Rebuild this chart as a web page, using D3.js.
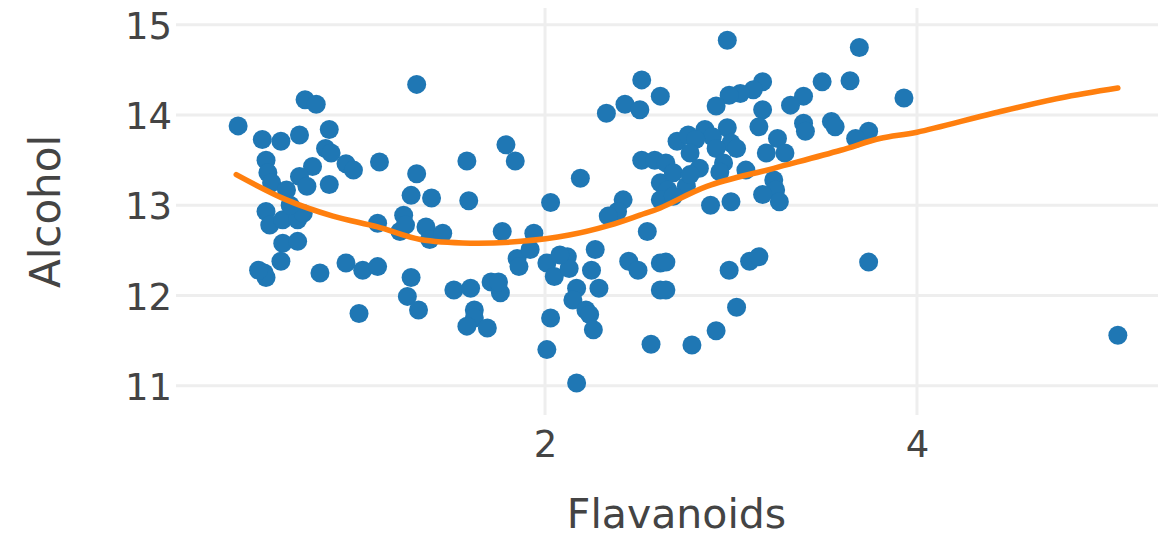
<!DOCTYPE html>
<html>
<head>
<meta charset="utf-8">
<script src="https://cdn.jsdelivr.net/npm/d3@7"></script>
<style>
  html, body { margin: 0; padding: 0; background: #fff; }
  svg { display: block; }
</style>
</head>
<body>
<svg id="chart" width="1158" height="538"></svg>
<script>
// ---- data ----
const flavanoids = [
  1.31,0.71,0.77,0.35,0.84,0.48,0.58,0.68,0.82,0.85,
  0.93,0.97,1.11,1.31,1.28,1.39,0.50,0.51,0.53,0.75,
  0.68,0.72,0.61,0.84,0.50,0.52,0.59,0.67,0.70,0.59,
  0.67,0.58,0.49,0.50,0.79,0.93,1.02,1.10,1.00,1.10,
  1.24,1.22,1.25,1.36,1.38,1.28,1.26,1.32,1.58,1.79,
  1.84,1.59,2.03,2.19,2.52,2.62,2.33,2.43,2.51,2.52,
  2.59,2.62,2.42,2.39,2.34,1.45,1.77,1.94,1.85,1.86,
  1.92,2.01,2.05,2.12,2.13,2.27,2.25,2.17,2.15,2.29,
  2.22,2.24,2.26,2.45,2.50,2.55,2.62,2.62,1.51,1.60,
  1.71,1.76,1.62,1.62,1.58,1.69,2.03,2.01,2.17,2.57,
  2.98,3.69,3.17,3.12,3.05,2.99,2.92,3.49,3.64,3.39,
  3.32,3.17,3.15,3.39,3.40,3.54,3.56,3.74,3.67,3.25,
  3.19,3.29,2.98,3.00,3.03,2.86,2.90,2.92,2.71,2.77,
  2.81,2.78,2.65,2.69,2.96,2.94,2.66,2.76,2.62,2.69,
  2.89,3.00,3.23,3.24,3.17,3.26,2.65,2.65,2.99,3.10,
  3.15,3.74,3.03,2.92,2.79,3.93,5.08,1.75,0.46,0.63,
  2.83,3.08,2.78,2.08
];
const alcohol = [
  14.34,14.17,14.12,13.88,13.84,13.73,13.71,13.78,13.63,13.58,
  13.46,13.39,13.48,13.35,13.11,13.08,13.50,13.36,13.25,13.43,
  13.32,13.21,13.17,13.23,12.93,12.78,12.84,12.84,12.91,12.58,
  12.60,12.38,12.25,12.20,12.25,12.36,12.28,12.32,11.80,12.80,
  12.89,12.71,12.78,12.76,12.62,12.20,11.99,11.84,13.49,13.67,
  13.49,13.05,13.03,13.30,14.39,14.21,14.02,14.12,14.06,13.50,
  13.50,13.25,13.06,12.93,12.88,12.69,12.71,12.69,12.41,12.32,
  12.51,12.36,12.21,12.43,12.30,12.51,12.28,12.08,11.95,12.08,
  11.84,11.79,11.62,12.38,12.28,12.71,12.36,12.06,12.06,12.08,
  12.15,12.03,11.84,11.75,11.66,11.64,11.75,11.40,11.03,11.46,
  14.83,14.75,14.37,14.28,14.24,14.22,14.10,14.37,14.38,14.21,
  14.11,14.06,13.87,13.91,13.82,13.93,13.87,13.82,13.74,13.74,
  13.58,13.58,13.86,13.69,13.63,13.84,13.76,13.63,13.71,13.78,
  13.73,13.58,13.47,13.36,13.47,13.37,13.17,13.21,13.06,13.10,
  13.00,13.04,13.28,13.17,13.12,13.04,12.37,12.06,12.28,12.38,
  12.43,12.37,11.87,11.61,11.45,14.19,11.56,12.15,12.28,13.00,
  13.41,13.39,13.34,12.45
];
// LOWESS trend line
const trendX = [0.34,0.61,0.86,1.10,1.33,1.60,1.87,2.13,2.35,2.51,2.62,2.87,3.23,3.59,3.80,4.00,4.41,4.77,5.08];
const trendY = [13.34,13.06,12.88,12.76,12.62,12.58,12.60,12.67,12.78,12.89,12.97,13.21,13.41,13.61,13.74,13.81,14.02,14.19,14.30];
const xTicks = [2, 4];
const yTicks = [11, 12, 13, 14, 15];
const xTitle = "Flavanoids";
const yTitle = "Alcohol";

// ---- layout ----
const plotLeft = 176, plotRight = 1177, plotTop = 8, plotBottom = 415;
const FONT = "'DejaVu Sans', Verdana, sans-serif";

const svg = d3.select("#chart");
const x = d3.scaleLinear().domain([0.016, 5.398]).range([plotLeft, plotRight]);
const y = d3.scaleLinear().domain([10.675, 15.187]).range([plotBottom, plotTop]);

// grid
const grid = svg.append("g").attr("stroke", "#eeeeee").attr("stroke-width", 3);
grid.selectAll("line.h").data(yTicks).join("line")
  .attr("x1", plotLeft).attr("x2", plotRight)
  .attr("y1", d => y(d)).attr("y2", d => y(d));
grid.selectAll("line.v").data(xTicks).join("line")
  .attr("y1", plotTop).attr("y2", plotBottom)
  .attr("x1", d => x(d)).attr("x2", d => x(d));

// axes
const yAxis = svg.append("g").attr("transform", `translate(${plotLeft},0)`)
  .call(d3.axisLeft(y).tickValues(yTicks).tickSize(0).tickPadding(4).tickFormat(d3.format("d")));
const xAxis = svg.append("g").attr("transform", `translate(0,${plotBottom})`)
  .call(d3.axisBottom(x).tickValues(xTicks).tickSize(0).tickPadding(16).tickFormat(d3.format("d")));
[yAxis, xAxis].forEach(a => {
  a.select(".domain").remove();
  a.selectAll("text").attr("font-family", FONT).attr("font-size", 37).attr("fill", "#444");
});
yAxis.selectAll("text").attr("dy", "0.37em");

// titles
svg.append("text").attr("x", (plotLeft + plotRight) / 2).attr("y", 528)
  .attr("text-anchor", "middle").attr("font-family", FONT).attr("font-size", 41).attr("fill", "#444")
  .text(xTitle);
svg.append("text").attr("transform", `translate(60,${(plotTop + plotBottom) / 2}) rotate(-90)`)
  .attr("text-anchor", "middle").attr("font-family", FONT).attr("font-size", 42).attr("fill", "#444")
  .text(yTitle);

// points
const pts = flavanoids.map((v, i) => ({ x: v, y: alcohol[i] }));
svg.append("g").selectAll("circle").data(pts).join("circle")
  .attr("cx", d => x(d.x)).attr("cy", d => y(d.y)).attr("r", 9.5)
  .attr("fill", "#1f77b4");

// trend line
const trend = trendX.map((v, i) => ({ x: v, y: trendY[i] }));
svg.append("path").datum(trend)
  .attr("fill", "none").attr("stroke", "#ff7f0e").attr("stroke-width", 5.5)
  .attr("stroke-linejoin", "round").attr("stroke-linecap", "round")
  .attr("d", d3.line().x(d => x(d.x)).y(d => y(d.y)).curve(d3.curveCatmullRom));
</script>
</body>
</html>
